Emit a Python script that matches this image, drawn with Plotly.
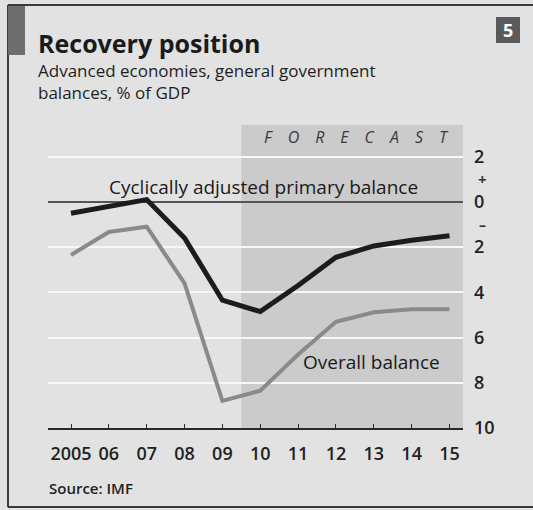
import plotly.graph_objects as go

# General government balances, % of GDP (advanced economies)
years = list(range(2005, 2016))
year_labels = ["2005", "06", "07", "08", "09", "10", "11", "12", "13", "14", "15"]
cyclically_adjusted = [-0.5, -0.18, 0.1, -1.6, -4.35, -4.85, -3.7, -2.45, -1.95, -1.7, -1.5]
overall_balance = [-2.35, -1.33, -1.1, -3.6, -8.8, -8.35, -6.75, -5.3, -4.88, -4.75, -4.75]

y_ticks = [2, 0, -2, -4, -6, -8, -10]
y_tick_labels = ["2", "0", "2", "4", "6", "8", "10"]

forecast_start, forecast_end = 2009.5, 2015.5
y_min, y_max = -10, 3.4

W, H = 533, 510
FONT = "Open Sans"
BG = "#e2e2e2"


def px(x):
    return x / W


def py(y):
    return 1 - y / H


fig = go.Figure()

fig.add_trace(go.Scatter(
    x=years, y=overall_balance, mode="lines",
    line=dict(color="#8a8a8a", width=4), hoverinfo="skip", showlegend=False,
))
fig.add_trace(go.Scatter(
    x=years, y=cyclically_adjusted, mode="lines",
    line=dict(color="#1c1c1c", width=5), hoverinfo="skip", showlegend=False,
))

shapes = [
    # forecast shading
    dict(type="rect", xref="x", yref="y", x0=forecast_start, x1=forecast_end,
         y0=y_min, y1=y_max, fillcolor="#cbcbcb", line_width=0, layer="below"),
    # frame
    dict(type="line", xref="paper", yref="paper", x0=px(8), x1=1, y0=py(5), y1=py(5),
         line=dict(color="#3a3a3a", width=2)),
    dict(type="line", xref="paper", yref="paper", x0=px(8), x1=1, y0=py(507), y1=py(507),
         line=dict(color="#3a3a3a", width=2)),
    dict(type="line", xref="paper", yref="paper", x0=px(8), x1=px(8), y0=py(5), y1=py(507),
         line=dict(color="#3a3a3a", width=2)),
    # corner tag
    dict(type="rect", xref="paper", yref="paper", x0=px(8), x1=px(25), y0=py(55), y1=py(6),
         fillcolor="#6e6e6e", line_width=0),
    # chart number box
    dict(type="rect", xref="paper", yref="paper", x0=px(496), x1=px(520), y0=py(43), y1=py(17),
         fillcolor="#5a5a5a", line_width=0),
]

annotations = [
    dict(text="<b>Recovery position</b>", xref="paper", yref="paper", x=px(36), y=py(43),
         xanchor="left", yanchor="middle", showarrow=False,
         font=dict(family=FONT, size=25, color="#1a1a1a")),
    dict(text="Advanced economies, general government<br>balances, % of GDP", xref="paper", yref="paper",
         x=px(36), y=py(57), xanchor="left", yanchor="top", align="left", showarrow=False,
         font=dict(family=FONT, size=17, color="#1e1e1e", weight=500)),
    dict(text="<b>5</b>", xref="paper", yref="paper", x=px(508), y=py(30),
         xanchor="center", yanchor="middle", showarrow=False,
         font=dict(family=FONT, size=18, color="#ffffff")),
    dict(text="<i>F\u2003O\u2003R\u2003E\u2003C\u2003A\u2003S\u2003T</i>", xref="x", yref="y",
         x=2012.53, y=2.88, xanchor="center", yanchor="middle",
         showarrow=False, font=dict(family=FONT, size=16, color="#3a3a3a")),
    dict(text="Cyclically adjusted primary balance", xref="x", yref="y", x=2010.09, y=0.68,
         xanchor="center", yanchor="middle", showarrow=False,
         font=dict(family=FONT, size=19, color="#1a1a1a", weight=500)),
    dict(text="Overall balance", xref="x", yref="y", x=2012.95, y=-7.08,
         xanchor="center", yanchor="middle", showarrow=False,
         font=dict(family=FONT, size=19, color="#1a1a1a", weight=500)),
    dict(text="<b>+</b>", xref="paper", yref="y", x=px(482), y=1, xanchor="center", yanchor="middle",
         showarrow=False, font=dict(family=FONT, size=15, color="#333333")),
    dict(text="<b>\u2013</b>", xref="paper", yref="y", x=px(482), y=-1, xanchor="center", yanchor="middle",
         showarrow=False, font=dict(family=FONT, size=14, color="#333333")),
    dict(text="Source: IMF", xref="paper", yref="paper", x=px(47), y=py(488),
         xanchor="left", yanchor="middle", showarrow=False,
         font=dict(family=FONT, size=15, color="#222222", weight=600)),
]

x0_px, x1_px = 48, 463
yr_px = (449.5 - 71) / 10
x_range = [2005 - (71 - x0_px) / yr_px, 2005 + (x1_px - 71) / yr_px]

fig.update_layout(
    width=W, height=H, margin=dict(l=0, r=0, t=0, b=0, pad=0, autoexpand=False),
    paper_bgcolor=BG, plot_bgcolor=BG,
    shapes=shapes, annotations=annotations,
    xaxis=dict(
        domain=[px(x0_px), px(x1_px)], range=x_range, automargin=False,
        tickvals=years, ticktext=year_labels,
        showgrid=False, zeroline=False,
        showline=True, linecolor="#2a2a2a", linewidth=1.5,
        ticks="inside", ticklen=4, tickcolor="#2a2a2a", tickwidth=1,
        ticklabelstandoff=9,
        tickfont=dict(family=FONT, size=18, color="#222222", weight=600),
        fixedrange=True,
    ),
    yaxis=dict(
        domain=[py(428), py(125)], range=[y_min, y_max], side="right", automargin=False,
        tickvals=y_ticks, ticktext=y_tick_labels,
        showgrid=True, gridcolor="#f8f8f8", gridwidth=2,
        zeroline=True, zerolinecolor="#555555", zerolinewidth=1.5,
        showline=False, ticks="", ticklabelstandoff=10,
        tickfont=dict(family=FONT, size=18, color="#222222", weight=600),
        fixedrange=True,
    ),
)

fig.write_html("out.html", config={"displayModeBar": False})
